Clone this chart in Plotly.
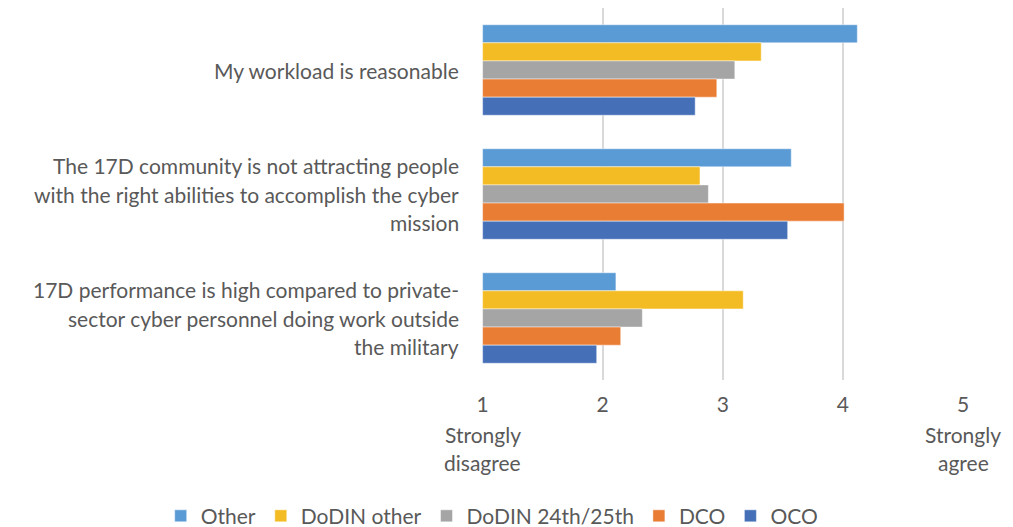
import plotly.graph_objects as go

categories = [
    "My workload is reasonable",
    "The 17D community is not attracting people<br>with the right abilities to accomplish the cyber<br>mission",
    "17D performance is high compared to private-<br>sector cyber personnel doing work outside<br>the military",
]
series_names = ["Other", "DoDIN other", "DoDIN 24th/25th", "DCO", "OCO"]
other = [4.12, 3.57, 2.11]
dodin_other = [3.32, 2.81, 3.17]
dodin_24_25 = [3.10, 2.88, 2.33]
dco = [2.95, 4.01, 2.15]
oco = [2.77, 3.54, 1.95]
colors = ["#5B9BD5", "#F4BC24", "#A5A5A5", "#E97D34", "#4570B8"]
tick_vals = [1, 2, 3, 4, 5]
tick_text = ["1", "2", "3", "4", "5"]
end_labels = {1: "Strongly<br>disagree", 5: "Strongly<br>agree"}
scale_base = 1

font_family = "Lato, 'Open Sans', sans-serif"
text_color = "#595959"
fsize = 21
line_h = 28.5

fig = go.Figure()
for name, vals, col in zip(series_names, [other, dodin_other, dodin_24_25, dco, oco], colors):
    fig.add_trace(go.Bar(
        name=name, y=categories, x=[v - scale_base for v in vals], base=scale_base,
        orientation="h",
        marker=dict(color=col, line=dict(color="rgba(255,255,255,0.45)", width=1)),
    ))

annotations = []
# category labels, one annotation per line for Excel-like line spacing
for cat in categories:
    lines = cat.split("<br>")
    n = len(lines)
    for i, ln in enumerate(lines):
        annotations.append(dict(
            x=0, xref="paper", y=cat, yref="y", text=ln, showarrow=False,
            xanchor="right", yanchor="middle", xshift=-21,
            yshift=-((i - (n - 1) / 2) * line_h),
            font=dict(size=fsize, color=text_color, family=font_family),
        ))
# end-of-scale descriptors under the numeric ticks
for xv, txt in end_labels.items():
    for i, ln in enumerate(txt.split("<br>")):
        annotations.append(dict(
            x=xv, xref="x", y=0, yref="paper", text=ln, showarrow=False,
            xanchor="center", yanchor="middle", yshift=-54 - i * line_h,
            font=dict(size=fsize, color=text_color, family=font_family),
        ))

fig.update_layout(
    width=1013, height=527,
    margin=dict(l=482, r=50, t=8, b=147, autoexpand=False),
    barmode="group", bargap=0.27, bargroupgap=0,
    plot_bgcolor="white", paper_bgcolor="white",
    font=dict(family=font_family, color=text_color, size=fsize),
    legend=dict(orientation="h", xref="paper", x=-0.668, xanchor="left",
                yref="paper", y=-0.366, yanchor="middle",
                font=dict(size=fsize, color=text_color), traceorder="normal",
                itemwidth=30),
    showlegend=True,
    annotations=annotations,
)
fig.update_xaxes(
    range=[0.995, 5.0], tickvals=tick_vals, ticktext=tick_text,
    showgrid=True, gridcolor="#D9D9D9", gridwidth=2,
    zeroline=False, showline=False, ticks="", ticklabelstandoff=10,
    tickfont=dict(size=fsize, color=text_color),
)
fig.update_yaxes(
    autorange="reversed", showgrid=False, showline=False, ticks="",
    showticklabels=False,
)

fig.write_html("out.html")
